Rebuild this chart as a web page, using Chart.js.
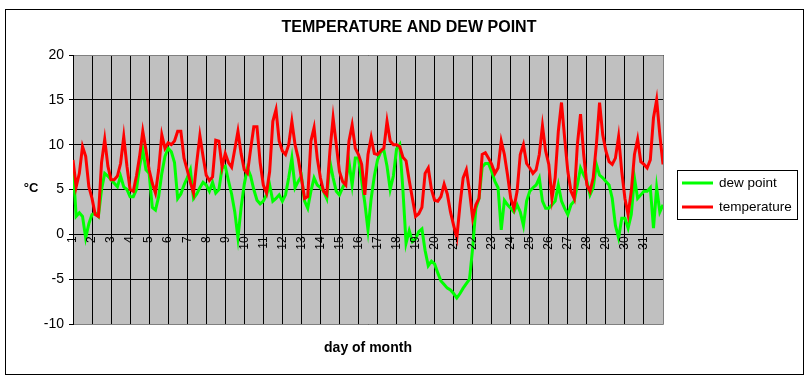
<!DOCTYPE html>
<html><head><meta charset="utf-8">
<script src="https://cdn.jsdelivr.net/npm/chart.js@4/dist/chart.umd.min.js"></script>
<style>html,body{margin:0;padding:0;background:#fff}#wrap{width:809px;height:383px;position:relative}</style>
</head><body><div id="wrap"><canvas id="c" width="809" height="383"></canvas></div>
<script>
const chartTitle = 'TEMPERATURE AND DEW POINT';
const xTitle = 'day of month';
const yTitle = '°C';
const seriesNames = ['dew point', 'temperature'];
const dayLabels = ['1','2','3','4','5','6','7','8','9','10','11','12','13','14','15','16','17','18','19','20','21','22','23','24','25','26','27','28','29','30','31'];
const samplesPerDay = 6;
const yMin = -10, yMax = 20, yStep = 5;

// readings every 4 hours, from day 1 00:00 to day 32 00:00
const dewPoint = [
  7.6, 2.0, 2.4, 2.0, -0.4, 1.2,
  2.2, 2.4, 2.0, 5.0, 6.8, 6.5,
  6.1, 5.7, 5.3, 6.5, 5.3, 5.0,
  4.2, 4.2, 5.0, 7.6, 9.4, 7.2,
  6.8, 3.0, 2.7, 4.2, 6.8, 8.7,
  9.6, 9.2, 8.0, 4.0, 4.5, 5.5,
  6.3, 7.2, 4.0, 4.5, 5.2, 5.8,
  5.5, 4.8, 5.8, 4.6, 5.0, 7.4,
  7.6, 6.0, 4.5, 2.5, -0.4, 3.0,
  5.6, 7.4, 6.5, 5.0, 3.8, 3.4,
  3.7, 4.4, 5.5, 3.7, 4.0, 4.4,
  3.7, 4.4, 6.3, 8.5, 5.2, 5.9,
  6.5, 3.7, 2.9, 4.8, 6.3, 5.5,
  5.2, 4.8, 4.0, 8.1, 6.3, 4.8,
  4.4, 5.2, 5.9, 8.1, 5.5, 8.5,
  8.5, 6.0, 3.5, 0.5, 4.0, 6.5,
  8.3, 9.2, 9.4, 7.6, 5.0, 6.5,
  9.5, 10.0, 5.0, -1.0, 0.4, -0.8,
  -0.5, 0.3, 0.6, -1.8, -3.5, -3.0,
  -3.3, -4.3, -5.2, -5.6, -6.0, -6.2,
  -6.6, -7.1, -6.6, -6.0, -5.5, -5.0,
  -1.5, 2.9, 4.0, 7.5, 7.9, 7.9,
  7.0, 5.9, 5.2, 0.5, 3.8, 3.3,
  2.9, 2.5, 3.3, 2.5, 1.0, 3.7,
  4.8, 5.2, 5.5, 6.3, 3.7, 2.9,
  2.9, 3.3, 3.7, 5.5, 3.7, 2.9,
  2.2, 3.3, 3.7, 5.5, 7.4, 6.6,
  5.9, 4.4, 5.2, 7.8, 6.6, 6.3,
  5.9, 5.5, 4.0, 1.0, -0.4, 1.8,
  1.8, 0.7, 2.2, 6.3, 4.0, 4.4,
  4.8, 4.8, 5.2, 0.7, 5.2, 2.5,
  3.3
];
const temperature = [
  8.3, 5.3, 6.8, 9.8, 8.7, 5.3,
  4.0, 2.2, 2.0, 8.0, 10.6, 7.6,
  6.1, 6.1, 6.5, 7.9, 10.9, 7.6,
  5.0, 4.8, 6.5, 8.7, 11.5, 9.4,
  7.2, 5.7, 4.6, 7.2, 11.1, 9.6,
  10.2, 10.0, 10.4, 11.5, 11.5, 8.5,
  7.2, 5.8, 4.6, 8.0, 11.0, 8.7,
  6.6, 6.0, 6.4, 10.5, 10.4, 7.5,
  9.0, 8.0, 7.5, 9.5, 11.5, 9.0,
  7.2, 6.8, 9.5, 12.0, 12.0, 8.0,
  5.5, 4.6, 7.0, 12.6, 13.9, 10.4,
  9.3, 8.9, 10.0, 12.6, 10.0, 8.5,
  6.3, 4.0, 4.2, 10.4, 11.9, 8.5,
  6.3, 4.8, 4.4, 9.3, 13.0, 10.0,
  7.0, 5.9, 5.5, 10.4, 12.2, 9.6,
  8.9, 7.8, 4.4, 8.9, 10.8, 9.0,
  8.9, 9.3, 9.6, 12.6, 10.4, 10.0,
  10.0, 9.8, 8.6, 8.2, 6.0, 4.0,
  2.0, 2.3, 3.0, 6.8, 7.4, 5.0,
  3.8, 3.7, 4.2, 5.6, 4.5, 2.5,
  1.0, -0.4, 3.3, 6.3, 7.2, 4.8,
  1.8, 3.3, 4.0, 8.9, 9.1, 8.5,
  7.8, 6.8, 7.4, 10.4, 8.9, 6.6,
  4.0, 2.9, 4.8, 8.9, 10.0, 7.9,
  7.4, 6.8, 7.2, 8.9, 12.1, 9.3,
  7.8, 4.0, 6.3, 11.5, 14.7, 10.7,
  7.0, 4.8, 4.0, 10.0, 13.4, 8.9,
  5.5, 4.8, 6.3, 10.0, 14.7, 11.1,
  9.3, 8.1, 7.8, 8.5, 10.9, 7.0,
  4.0, 2.2, 4.8, 8.9, 10.6, 8.1,
  7.8, 7.4, 8.3, 13.0, 15.0, 11.1,
  7.8
];

const FONT = "'Liberation Sans', Arial, sans-serif";
const toPoints = arr => arr.map((v, i) => ({ x: i, y: v }));

const decor = {
  id: 'decor',
  beforeDraw(chart) {
    const { ctx, chartArea: a } = chart;
    ctx.save();
    ctx.fillStyle = '#fff';
    ctx.fillRect(0, 0, chart.width, chart.height);
    ctx.fillStyle = '#C0C0C0';
    ctx.fillRect(a.left, a.top, a.right - a.left, a.bottom - a.top);
    ctx.restore();
  },
  beforeDatasetsDraw(chart) {
    const { ctx, chartArea: a } = chart;
    ctx.save();
    ctx.strokeStyle = '#808080';
    ctx.lineWidth = 1;
    ctx.beginPath();
    ctx.moveTo(a.left, Math.round(a.top) + 0.5);
    ctx.lineTo(Math.round(a.right) + 0.5, Math.round(a.top) + 0.5);
    ctx.lineTo(Math.round(a.right) + 0.5, Math.round(a.bottom) + 0.5);
    ctx.lineTo(a.left, Math.round(a.bottom) + 0.5);
    ctx.stroke();
    ctx.strokeStyle = '#000';
    ctx.beginPath();
    ctx.moveTo(Math.round(a.left) + 0.5, a.top);
    ctx.lineTo(Math.round(a.left) + 0.5, a.bottom + 1);
    ctx.stroke();
    ctx.restore();
  },
  afterDatasetsDraw(chart) {
    const { ctx } = chart;
    const xs = chart.scales.x, ys = chart.scales.y;
    const py = ys.getPixelForValue(0) + 2;
    ctx.save();
    ctx.fillStyle = '#000';
    ctx.font = '12px ' + FONT;
    ctx.textAlign = 'right';
    ctx.textBaseline = 'middle';
    dayLabels.forEach((lab, i) => {
      const px = xs.getPixelForValue(i * samplesPerDay);
      ctx.save();
      ctx.translate(px, py);
      ctx.rotate(-Math.PI / 2);
      ctx.fillText(lab, 0, 0);
      ctx.restore();
    });
    ctx.restore();
  },
  afterDraw(chart) {
    const { ctx, chartArea: a } = chart;
    ctx.save();
    ctx.fillStyle = '#000';
    ctx.textAlign = 'center';
    ctx.textBaseline = 'middle';
    ctx.font = 'bold 16px ' + FONT;
    ctx.fillText(chartTitle, 409, 28);
    ctx.font = 'bold 14px ' + FONT;
    ctx.fillText(xTitle, (a.left + a.right) / 2, 348);
    ctx.font = 'bold 13px ' + FONT;
    ctx.fillText(yTitle, 31, 188);
    // legend
    ctx.strokeStyle = '#000';
    ctx.lineWidth = 1;
    ctx.fillStyle = '#fff';
    ctx.fillRect(677.5, 170.5, 120, 49);
    ctx.strokeRect(677.5, 170.5, 120, 49);
    const cols = ['#00FF00', '#FF0000'];
    const ly = [183, 207];
    ctx.lineWidth = 3;
    seriesNames.forEach((n, i) => {
      ctx.strokeStyle = cols[i];
      ctx.beginPath();
      ctx.moveTo(682, ly[i]);
      ctx.lineTo(713, ly[i]);
      ctx.stroke();
      ctx.fillStyle = '#000';
      ctx.font = '13.5px ' + FONT;
      ctx.textAlign = 'left';
      ctx.fillText(n, 719, ly[i]);
    });
    // outer frame
    ctx.lineWidth = 1;
    ctx.strokeStyle = '#000';
    ctx.strokeRect(5.5, 9.5, 798, 365);
    ctx.restore();
  }
};

new Chart(document.getElementById('c'), {
  type: 'line',
  data: {
    datasets: [
      { label: seriesNames[0], data: toPoints(dewPoint), borderColor: '#00FF00', borderWidth: 3, pointRadius: 0, tension: 0, fill: false, order: 1 },
      { label: seriesNames[1], data: toPoints(temperature), borderColor: '#FF0000', borderWidth: 3, pointRadius: 0, tension: 0, fill: false, order: 0 }
    ]
  },
  options: {
    responsive: false,
    animation: false,
    devicePixelRatio: 1,
    layout: { padding: { left: 0, top: 55, right: 146, bottom: 59 } },
    plugins: { legend: { display: false }, title: { display: false }, tooltip: { enabled: false } },
    scales: {
      x: {
        type: 'linear', min: 0, max: dayLabels.length * samplesPerDay,
        ticks: { stepSize: samplesPerDay, display: false, autoSkip: false },
        grid: { color: '#000', lineWidth: 1, drawTicks: false },
        border: { display: false },
        afterFit(s) { s.height = 0; }
      },
      y: {
        min: yMin, max: yMax,
        ticks: { stepSize: yStep, color: '#000', font: { family: FONT, size: 14 }, padding: 5 },
        grid: { color: '#000', lineWidth: 1, tickLength: 4 },
        border: { display: false },
        afterFit(s) { s.width = 73; }
      }
    }
  },
  plugins: [decor]
});
</script></body></html>
